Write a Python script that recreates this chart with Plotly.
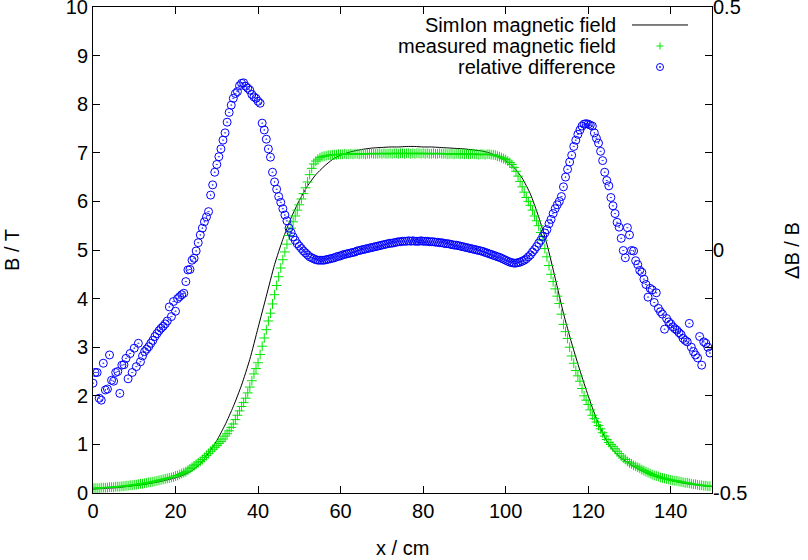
import plotly.graph_objects as go

# ---------------- data ----------------
# measurement positions (cm), 0.5 cm spacing
x_meas = [i * 0.5 for i in range(300)]

b_measured = [
    0.10, 0.10, 0.10, 0.10, 0.11, 0.11, 0.11, 0.11, 0.12, 0.12, 0.12, 0.13, 0.13, 0.13, 0.14, 0.14, 0.15, 0.15, 0.16, 0.16,
    0.17, 0.17, 0.18, 0.19, 0.19, 0.20, 0.21, 0.22, 0.22, 0.23, 0.24, 0.25, 0.26, 0.27, 0.28, 0.29, 0.30, 0.31, 0.32, 0.33,
    0.35, 0.36, 0.38, 0.40, 0.42, 0.44, 0.47, 0.50, 0.53, 0.56, 0.59, 0.62, 0.65, 0.69, 0.73, 0.77, 0.81, 0.86, 0.90, 0.94,
    0.98, 1.02, 1.06, 1.11, 1.17, 1.22, 1.28, 1.35, 1.42, 1.51, 1.60, 1.69, 1.78, 1.86, 1.95, 2.06, 2.18, 2.31, 2.45, 2.56,
    2.68, 2.85, 3.02, 3.19, 3.36, 3.54, 3.70, 3.89, 4.08, 4.27, 4.45, 4.63, 4.80, 4.96, 5.12, 5.30, 5.45, 5.58, 5.70, 5.82,
    5.93, 6.05, 6.16, 6.28, 6.40, 6.55, 6.68, 6.77, 6.83, 6.87, 6.90, 6.92, 6.93, 6.94, 6.95, 6.95, 6.96, 6.96, 6.96, 6.97,
    6.97, 6.97, 6.98, 6.97, 6.97, 6.98, 6.97, 6.98, 6.98, 6.97, 6.98, 6.98, 6.97, 6.98, 6.98, 6.99, 6.98, 6.98, 6.98, 6.99,
    6.98, 6.99, 6.98, 6.98, 6.99, 6.98, 6.99, 6.99, 6.98, 6.99, 6.99, 6.98, 6.99, 6.99, 6.98, 6.99, 6.98, 6.99, 6.99, 6.98,
    6.99, 6.98, 6.99, 6.98, 6.98, 6.99, 6.98, 6.98, 6.99, 6.98, 6.98, 6.98, 6.97, 6.98, 6.98, 6.97, 6.98, 6.98, 6.97, 6.98,
    6.97, 6.98, 6.97, 6.97, 6.98, 6.97, 6.97, 6.96, 6.97, 6.97, 6.96, 6.97, 6.97, 6.96, 6.96, 6.95, 6.93, 6.92, 6.90, 6.88,
    6.86, 6.83, 6.80, 6.76, 6.70, 6.62, 6.52, 6.41, 6.30, 6.19, 6.08, 6.00, 5.92, 5.82, 5.70, 5.60, 5.50, 5.36, 5.20, 5.03,
    4.86, 4.68, 4.50, 4.35, 4.20, 4.05, 3.90, 3.68, 3.47, 3.32, 3.18, 3.00, 2.82, 2.67, 2.52, 2.41, 2.30, 2.15, 2.00, 1.91,
    1.82, 1.71, 1.60, 1.53, 1.46, 1.39, 1.32, 1.24, 1.17, 1.10, 1.04, 1.00, 0.96, 0.91, 0.86, 0.81, 0.76, 0.72, 0.69, 0.65,
    0.62, 0.60, 0.57, 0.55, 0.53, 0.51, 0.48, 0.46, 0.44, 0.42, 0.40, 0.38, 0.36, 0.35, 0.34, 0.32, 0.31, 0.30, 0.29, 0.28,
    0.27, 0.26, 0.25, 0.25, 0.24, 0.23, 0.22, 0.21, 0.21, 0.20, 0.19, 0.18, 0.18, 0.17, 0.16, 0.16, 0.15, 0.15, 0.14, 0.14,
]

rel_diff = [
    -0.274, -0.252, -0.252, -0.305, -0.309, -0.233, -0.288, -0.286, -0.216, -0.268, -0.270, -0.252, -0.250, -0.295, -0.237, -0.236, -0.223, -0.265, -0.213, -0.252,
    -0.202, -0.240, -0.192, -0.230, -0.218, -0.209, -0.204, -0.199, -0.192, -0.186, -0.178, -0.172, -0.166, -0.161, -0.157, -0.152, -0.146, -0.117, -0.137, -0.106,
    -0.126, -0.100, -0.096, -0.092, -0.089, -0.065, -0.041, -0.040, -0.021, -0.017, -0.002, 0.015, 0.031, 0.045, 0.058, 0.068, 0.079, 0.113, 0.134, 0.160,
    0.176, 0.192, 0.208, 0.226, 0.241, 0.263, 0.283, 0.298, 0.312, 0.322, 0.326, 0.338, 0.343, 0.344, 0.337, 0.333, 0.329, 0.320, 0.315, 0.312,
    0.306, 0.302, 0.261, 0.247, 0.228, 0.208, 0.191, 0.160, 0.140, 0.125, 0.110, 0.098, 0.085, 0.072, 0.060, 0.045, 0.036, 0.027, 0.020, 0.013,
    0.008, 0.003, -0.002, -0.006, -0.010, -0.014, -0.016, -0.018, -0.020, -0.021, -0.021, -0.021, -0.021, -0.020, -0.019, -0.018, -0.017, -0.016, -0.014, -0.013,
    -0.012, -0.010, -0.009, -0.008, -0.007, -0.006, -0.005, -0.004, -0.002, -0.001, 0.000, 0.001, 0.002, 0.003, 0.004, 0.005, 0.006, 0.007, 0.008, 0.009,
    0.010, 0.011, 0.012, 0.013, 0.014, 0.014, 0.015, 0.016, 0.017, 0.017, 0.018, 0.018, 0.018, 0.019, 0.018, 0.019, 0.018, 0.018, 0.018, 0.019,
    0.018, 0.018, 0.018, 0.017, 0.017, 0.017, 0.016, 0.016, 0.015, 0.015, 0.014, 0.013, 0.013, 0.012, 0.011, 0.010, 0.010, 0.009, 0.008, 0.007,
    0.006, 0.005, 0.004, 0.003, 0.002, 0.001, 0.000, -0.001, -0.002, -0.003, -0.005, -0.006, -0.008, -0.009, -0.011, -0.012, -0.014, -0.015, -0.017, -0.019,
    -0.021, -0.023, -0.025, -0.026, -0.027, -0.027, -0.026, -0.025, -0.023, -0.021, -0.018, -0.014, -0.010, -0.004, 0.001, 0.007, 0.014, 0.020, 0.028, 0.035,
    0.042, 0.054, 0.063, 0.075, 0.085, 0.093, 0.100, 0.110, 0.130, 0.150, 0.166, 0.181, 0.195, 0.213, 0.226, 0.238, 0.247, 0.255, 0.259, 0.260,
    0.259, 0.257, 0.255, 0.241, 0.230, 0.220, 0.203, 0.184, 0.160, 0.143, 0.132, 0.108, 0.091, 0.075, 0.057, 0.047, 0.024, -0.001, -0.016, 0.046,
    0.031, -0.001, -0.002, -0.022, -0.030, -0.042, -0.046, -0.060, -0.071, -0.097, -0.079, -0.082, -0.108, -0.088, -0.120, -0.127, -0.132, -0.163, -0.141, -0.148,
    -0.152, -0.158, -0.162, -0.165, -0.170, -0.174, -0.182, -0.186, -0.189, -0.151, -0.200, -0.209, -0.216, -0.222, -0.178, -0.237, -0.189, -0.192, -0.200, -0.212,
]

# SimIon simulation, 2 cm spacing
x_sim = [i * 2 for i in range(76)]
b_simion = [
    0.08, 0.09, 0.10, 0.11, 0.13, 0.15, 0.17, 0.20, 0.23, 0.27,
    0.31, 0.37, 0.46, 0.60, 0.82, 1.08, 1.40, 1.78, 2.22, 2.75,
    3.40, 4.05, 4.70, 5.22, 5.66, 6.02, 6.32, 6.55, 6.72, 6.86,
    6.95, 7.01, 7.05, 7.08, 7.10, 7.11, 7.12, 7.12, 7.13, 7.13,
    7.12, 7.12, 7.11, 7.10, 7.09, 7.08, 7.06, 7.04, 7.00, 6.93,
    6.84, 6.70, 6.48, 6.15, 5.68, 5.12, 4.42, 3.70, 3.08, 2.52,
    2.00, 1.53, 1.15, 0.88, 0.72, 0.61, 0.50, 0.42, 0.35, 0.30,
    0.26, 0.22, 0.19, 0.17, 0.15, 0.13,
]

x_ticks = [0, 20, 40, 60, 80, 100, 120, 140]
y_ticks = [0, 1, 2, 3, 4, 5, 6, 7, 8, 9, 10]
y2_ticks = [-0.5, 0, 0.5]
y2_ticktext = ["-0.5", "0", "0.5"]
legend_labels = ["SimIon magnetic field", "measured magnetic field", "relative difference"]

GREEN = "#00e600"
BLUE = "#0000ff"
FONT = "Liberation Sans, Arial, sans-serif"
FS = 20

fig = go.Figure()
fig.add_trace(go.Scatter(x=x_sim, y=b_simion, mode="lines",
                         line=dict(color="black", width=1, shape="spline", smoothing=0.6),
                         name=legend_labels[0]))
fig.add_trace(go.Scatter(x=x_meas, y=b_measured, mode="markers",
                         marker=dict(symbol="cross-thin-open", size=7, color=GREEN,
                                     line=dict(color=GREEN, width=1)),
                         name=legend_labels[1]))
fig.add_trace(go.Scatter(x=x_meas, y=rel_diff, mode="markers", yaxis="y2",
                         marker=dict(symbol="circle-open-dot", size=8, color=BLUE,
                                     line=dict(color=BLUE, width=1)),
                         name=legend_labels[2]))

axis_common = dict(ticks="inside", ticklen=7, tickcolor="black", tickwidth=1,
                   showline=True, linecolor="black", linewidth=1, automargin=False,
                   showgrid=False, zeroline=False, ticklabeloverflow="allow",
                   tickfont=dict(family=FONT, size=FS, color="black"))

fig.update_layout(
    width=808, height=560,
    margin=dict(l=93, r=96, t=7, b=67, autoexpand=False),
    plot_bgcolor="white", paper_bgcolor="white",
    showlegend=False,
    font=dict(family=FONT, size=FS, color="black"),
    xaxis=dict(range=[0, 150], tickvals=x_ticks, mirror="ticks", **axis_common),
    yaxis=dict(range=[0, 10], tickvals=y_ticks, mirror="ticks", **axis_common),
    yaxis2=dict(range=[-0.5, 0.5], tickvals=y2_ticks, ticktext=y2_ticktext,
                overlaying="y", side="right", ticks="inside", ticklen=7,
                tickcolor="black", showgrid=False, zeroline=False, showline=False,
                ticklabeloverflow="allow", automargin=False,
                tickfont=dict(family=FONT, size=FS, color="black")),
)

# axis titles
fig.add_annotation(text="B / T", xref="paper", yref="paper", x=-0.1309, y=0.5,
                   textangle=-90, showarrow=False, xanchor="center", yanchor="middle",
                   font=dict(family=FONT, size=FS))
fig.add_annotation(text="x / cm", xref="paper", yref="paper", x=0.4992, y=-0.1132,
                   showarrow=False, xanchor="center", yanchor="middle",
                   font=dict(family=FONT, size=FS))
fig.add_annotation(text="ΔB / B", xref="paper", yref="paper", x=1.1292, y=0.5,
                   textangle=-90, showarrow=False, xanchor="center", yanchor="middle",
                   font=dict(family=FONT, size=FS))

# custom gnuplot-style key (text right aligned, sample on the right)
rows_y = [0.963, 0.9198, 0.8765]
for label, yy in zip(legend_labels, rows_y):
    fig.add_annotation(text=label, xref="paper", yref="paper", x=0.8481, y=yy,
                       showarrow=False, xanchor="right", yanchor="middle",
                       font=dict(family=FONT, size=FS))
fig.add_shape(type="line", xref="paper", yref="paper", x0=0.8708, x1=0.9612,
              y0=rows_y[0], y1=rows_y[0], line=dict(color="black", width=1))
mx = 0.916
fig.add_shape(type="line", xref="paper", yref="paper", xsizemode="pixel", ysizemode="pixel",
              xanchor=mx, yanchor=rows_y[1], x0=-3.5, x1=3.5, y0=0, y1=0,
              line=dict(color=GREEN, width=1))
fig.add_shape(type="line", xref="paper", yref="paper", xsizemode="pixel", ysizemode="pixel",
              xanchor=mx, yanchor=rows_y[1], x0=0, x1=0, y0=-3.5, y1=3.5,
              line=dict(color=GREEN, width=1))
fig.add_shape(type="circle", xref="paper", yref="paper", xsizemode="pixel", ysizemode="pixel",
              xanchor=mx, yanchor=rows_y[2], x0=-3.5, x1=3.5, y0=-3.5, y1=3.5,
              line=dict(color=BLUE, width=1))
fig.add_shape(type="circle", xref="paper", yref="paper", xsizemode="pixel", ysizemode="pixel",
              xanchor=mx, yanchor=rows_y[2], x0=-0.7, x1=0.7, y0=-0.7, y1=0.7,
              line=dict(color=BLUE, width=0.5), fillcolor=BLUE)

fig.write_html("out.html", config={"displayModeBar": False},
               post_script="document.body.style.margin='0';document.body.style.padding='0';")
